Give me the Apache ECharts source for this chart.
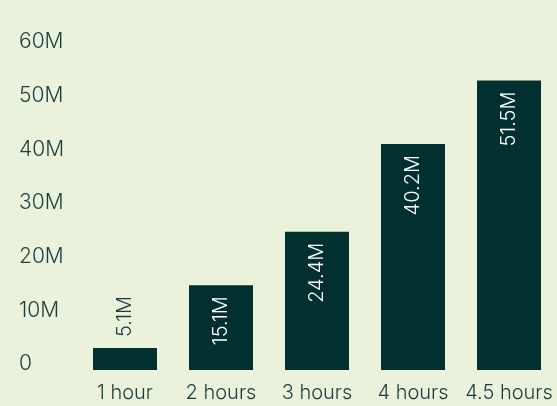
<!DOCTYPE html>
<html>
<head>
<meta charset="utf-8">
<script src="https://cdn.jsdelivr.net/npm/echarts@6/dist/echarts.min.js"></script>
<style>
html,body{margin:0;padding:0;background:#eaf2dc;}
#c{width:557px;height:406px;}
</style>
</head>
<body>
<div id="c"></div>
<script>
const categories = ['1 hour', '2 hours', '3 hours', '4 hours', '4.5 hours'];
// bar heights as drawn in the picture (millions)
const barValues = [3.9, 15.1, 24.6, 40.2, 51.5];
// value labels as printed on the bars
const valueLabels = ['5.1M', '15.1M', '24.4M', '40.2M', '51.5M'];
const tickValues = [0, 10, 20, 30, 40, 50, 60];
const tickLabels = ['0', '10M', '20M', '30M', '40M', '50M', '60M'];

const FONT = 'Inter';
const TXT = '#1a3d3d';
const BAR = '#02302f';

const chart = echarts.init(document.getElementById('c'), null, {renderer: 'canvas'});
chart.setOption({
  backgroundColor: '#eaf2dc',
  animation: false,
  grid: [
    {left: 77, right: 0, top: 32.8, bottom: 36},
    {left: 77, right: 0, top: 42, bottom: 42}
  ],
  xAxis: [
    {
      gridIndex: 0, type: 'category', data: categories,
      axisLine: {show: false}, axisTick: {show: false},
      axisLabel: {color: TXT, fontFamily: FONT, fontWeight: 300, fontSize: 20, margin: 13, interval: 0}
    },
    {gridIndex: 1, type: 'category', data: categories, show: false}
  ],
  yAxis: [
    {gridIndex: 0, type: 'value', min: 0, max: 60, show: false},
    {
      gridIndex: 1, type: 'value', min: 0, max: 60, interval: 10,
      axisLine: {show: false}, axisTick: {show: false}, splitLine: {show: false},
      axisLabel: {
        color: TXT, fontFamily: FONT, fontWeight: 300, fontSize: 21, align: 'left', margin: 58,
        formatter: function (v) { const i = tickValues.indexOf(v); return i >= 0 ? tickLabels[i] : ''; }
      }
    }
  ],
  series: [{
    type: 'bar', xAxisIndex: 0, yAxisIndex: 0,
    barWidth: 64,
    itemStyle: {color: BAR},
    data: barValues.map(function (v, i) {
      const outside = i === 0;
      return {
        value: v,
        label: {
          show: true,
          position: outside ? 'top' : 'insideTop',
          distance: 11,
          rotate: 90,
          align: outside ? 'left' : 'right',
          verticalAlign: 'middle',
          color: outside ? TXT : '#ffffff',
          fontFamily: FONT,
          fontWeight: 300,
          fontSize: 20,
          formatter: valueLabels[i]
        }
      };
    })
  }]
});
</script>
</body>
</html>
